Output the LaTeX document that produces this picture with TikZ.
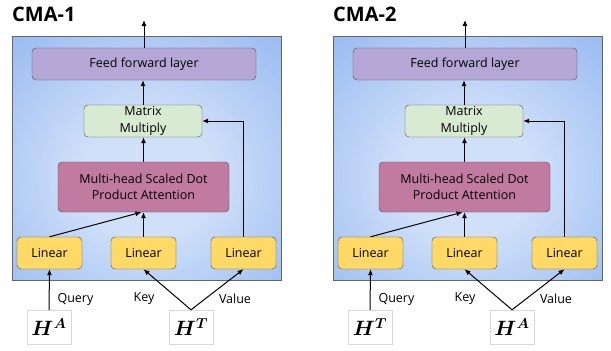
\documentclass[tikz,border=0pt]{standalone}
\usepackage{amsmath,amssymb,bm}
\usepackage{fontspec}
\setmainfont{Open Sans}
\usetikzlibrary{arrows.meta}
\usetikzlibrary{calc}
\definecolor{bluebg}{HTML}{6D9EEB}
\definecolor{bluemid}{HTML}{D0E0F9}
\definecolor{fffill}{HTML}{B4A7D6}
\definecolor{mmfill}{HTML}{D9EAD3}
\definecolor{attfill}{HTML}{C27BA0}
\definecolor{linfill}{HTML}{FFD966}
\pgfdeclareradialshading{bluefade}{\pgfpoint{0bp}{-5bp}}{color(0bp)=(bluemid); color(12bp)=(bluemid); color(58bp)=(bluebg); color(80bp)=(bluebg)}
\tikzset{
  box/.style={draw=black!70, rounded corners=4pt, align=center, inner sep=0pt, font=\fontsize{12.5}{16.5}\selectfont},
  arr/.style={-{Latex[length=6pt,width=5pt]}, line width=1pt},
  inbox/.style={draw=black!15, fill=white, minimum width=44pt, minimum height=34pt, inner sep=0pt, font=\fontsize{21}{24}\selectfont},
  lbl/.style={font=\fontsize{12.5}{15}\selectfont}
}
\newcommand{\blk}[7]{\node[box, fill=#6, minimum width=#4pt, minimum height=#5pt] (#1) at (#2,#3) {#7};}
% #1 prefix, #2 x offset, #3 title, #4 query input, #5 key/value input
\newcommand{\cmapanel}[5]{
    \begin{scope}[xshift=#2pt]
        % background
        \shade[shading=bluefade] (12,36) rectangle (281,280);
        \draw[black!60] (12,36) rectangle (281,280);
        \node[anchor=west, inner sep=0pt, font=\fontsize{20}{24}\selectfont\bfseries] (#1title) at (12,14) {#3};
        % blocks
        \blk{#1ff}{144}{64}{224}{32}{fffill}{Feed forward layer}
        \blk{#1mm}{143}{121}{118}{32}{mmfill}{Matrix\\Multiply}
        \blk{#1att}{143.5}{187}{171}{50}{attfill}{Multi-head Scaled Dot\\Product Attention}
        \blk{#1lq}{49.5}{253}{65}{32}{linfill}{Linear}
        \blk{#1lk}{143.5}{253}{65}{32}{linfill}{Linear}
        \blk{#1lv}{243.5}{253}{65}{32}{linfill}{Linear}
        % inputs
        \node[inbox] (#1q) at (49,327) {$\bm{H}^{\bm{#4}}$};
        \node[inbox] (#1kv) at (191,327) {$\bm{H}^{\bm{#5}}$};
        \node[lbl, anchor=west] (#1ql) at (54,299) {Query};
        \node[lbl] (#1kl) at (144,299) {Key};
        \node[lbl] (#1vl) at (235,299) {Value};
        \coordinate (#1out) at (144,20);
        % arrows
        \draw[arr] (#1ff.north) -- (#1out);
        \draw[arr] (#1mm.north) -- (#1mm.north |- #1ff.south);
        \draw[arr] (#1att.north) -- (#1att.north |- #1mm.south);
        \draw[arr] (#1lk.north) -- (#1lk.north |- #1att.south);
        \draw[arr] (#1lq.north) -- ([xshift=-2pt]#1att.south);
        \draw[arr] (#1lv.north) |- (#1mm.east);
        \draw[arr] (#1q.north) -- (#1lq.south);
        \draw[arr] (#1kv.north) -- (#1lk.south);
        \draw[arr] (#1kv.north) -- (#1lv.south);
    \end{scope}
}

\begin{document}
\begin{tikzpicture}[x=1pt, y=-1pt]
        \useasboundingbox (0,0) rectangle (611,351);
        % panel 1
        \cmapanel{a}{0}{CMA-1}{A}{T}
        % panel 2
        \cmapanel{b}{321}{CMA-2}{T}{A}
\end{tikzpicture}
\end{document}
